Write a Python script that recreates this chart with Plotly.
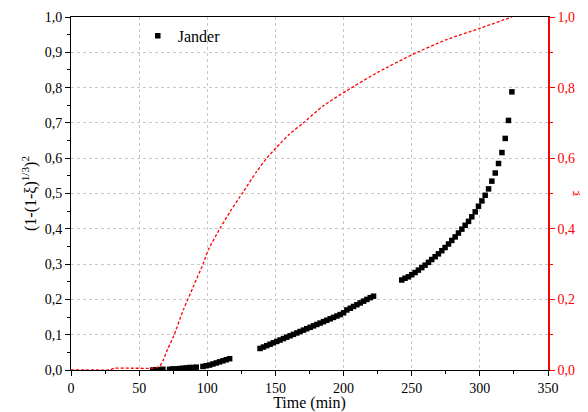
import plotly.graph_objects as go

# Jander points: time (min) and (1-(1-xi)^(1/3))^2
jander_t = [60.0, 62.5, 64.9, 67.4,
            72.3, 74.7, 77.2, 79.6, 82.1, 84.5, 87.0, 89.4, 91.9,
            96.8, 99.2, 101.7, 104.1, 106.6, 109.0, 111.5, 113.9, 116.4,
            138.7, 141.2, 143.6, 146.1, 148.5, 151.0, 153.4, 155.9, 158.3, 160.8,
            163.2, 165.7, 168.1, 170.6, 173.0, 175.5, 177.9, 180.4, 182.8, 185.3,
            187.7, 190.2, 192.6, 195.1, 197.5, 200.0,
            202.4, 204.9, 207.3, 209.8, 212.2, 214.7, 217.1, 219.6, 222.0,
            242.7, 245.1, 247.6, 250.0, 252.5, 254.9, 257.4, 259.8, 262.3, 264.7,
            267.2, 269.6, 272.1, 274.5, 277.0, 279.4, 281.9, 284.3, 286.8, 289.2,
            291.7, 294.1, 296.6, 299.0, 301.5, 303.9, 306.4, 308.8, 311.3, 313.7,
            316.2, 318.6, 321.0, 323.5]
jander_v = [0.000, 0.001, 0.001, 0.002,
            0.002, 0.003, 0.003, 0.004, 0.005, 0.006, 0.007, 0.007, 0.008,
            0.010, 0.012, 0.014, 0.017, 0.020, 0.023, 0.026, 0.029, 0.032,
            0.061, 0.065, 0.069, 0.073, 0.077, 0.081, 0.085, 0.089, 0.093, 0.097,
            0.101, 0.105, 0.109, 0.113, 0.117, 0.121, 0.125, 0.129, 0.133, 0.137,
            0.141, 0.145, 0.149, 0.153, 0.157, 0.162,
            0.170, 0.175, 0.180, 0.185, 0.190, 0.195, 0.200, 0.205, 0.209,
            0.255, 0.260, 0.264, 0.270, 0.276, 0.283, 0.290, 0.297, 0.305, 0.313,
            0.321, 0.329, 0.338, 0.347, 0.357, 0.367, 0.377, 0.388, 0.399, 0.410,
            0.421, 0.434, 0.448, 0.464, 0.479, 0.495, 0.513, 0.535, 0.558, 0.585,
            0.616, 0.656, 0.707, 0.788]

# Conversion degree xi vs time
xi_t = [0, 10, 20, 28, 32, 45, 60, 62.5, 65.3, 67.7, 71, 75.1, 82.4, 89.7, 97.1,
        100.7, 109.3, 116.7, 126.4, 136.2, 143.6, 150.9, 160, 170.4, 185, 202.2,
        225, 250.7, 275, 300, 323.5]
xi_v = [0.0, 0.0, 0.0, 0.0, 0.005, 0.005, 0.005, 0.006, 0.012, 0.028, 0.06, 0.094,
        0.17, 0.236, 0.302, 0.34, 0.401, 0.448, 0.505, 0.562, 0.60, 0.631, 0.667,
        0.70, 0.748, 0.791, 0.843, 0.894, 0.935, 0.968, 1.0]

FONT = "Liberation Serif, Times New Roman, serif"
GRID = "#c8c8c8"

fig = go.Figure()
fig.add_trace(go.Scatter(
    x=xi_t, y=xi_v, mode="lines", yaxis="y2", showlegend=False, name="ξ",
    line=dict(color="#ff0000", width=1.3, dash="3px,2px", shape="spline", smoothing=0.6)))
fig.add_trace(go.Scatter(
    x=jander_t, y=jander_v, mode="markers", name="Jander",
    marker=dict(symbol="square", size=5.5, color="black")))

fig.update_layout(
    width=580, height=404,
    margin=dict(l=63, r=40, t=9, b=42),
    paper_bgcolor="white", plot_bgcolor="white",
    separators=", ",
    font=dict(family=FONT, size=13, color="black"),
    showlegend=True,
    legend=dict(x=0.14, y=0.995, xanchor="left", yanchor="top",
                bgcolor="rgba(0,0,0,0)", font=dict(family=FONT, size=16)),
    xaxis=dict(range=[0, 350], tick0=0, dtick=50, ticks="outside", ticklen=5,
               tickcolor="black", linecolor="black", linewidth=1, mirror=True,
               showline=True, showgrid=True, gridcolor=GRID, griddash="dot",
               gridwidth=1, zeroline=False, automargin=False,
               minor=dict(dtick=25, ticks="outside", ticklen=3, tickcolor="black", showgrid=False),
               title=dict(text="Time (min)", font=dict(family=FONT, size=16), standoff=1),
               tickfont=dict(family=FONT, size=14)),
    yaxis=dict(range=[0, 1], tick0=0, dtick=0.1, tickformat=".1f", ticks="outside",
               ticklen=5, tickcolor="black", linecolor="black", linewidth=1,
               showline=True, showgrid=True, gridcolor=GRID, griddash="dot",
               gridwidth=1, zeroline=False, automargin=False,
               minor=dict(dtick=0.05, ticks="outside", ticklen=3, tickcolor="black", showgrid=False),
               title=dict(text="(1-(1-ξ)<sup>1/3</sup>)<sup>2</sup>",
                          font=dict(family=FONT, size=16), standoff=4),
               tickfont=dict(family=FONT, size=14)),
    yaxis2=dict(range=[0, 1], overlaying="y", side="right", tick0=0, dtick=0.2,
                tickformat=".1f", ticks="outside", ticklen=5, tickcolor="#ff0000",
                linecolor="#ff0000", linewidth=1.5, showline=True, showgrid=False,
                zeroline=False, automargin=False,
                minor=dict(dtick=0.1, ticks="outside", ticklen=3, tickcolor="#ff0000"),
                title=dict(text="ξ", font=dict(family=FONT, size=16, color="#ff0000"),
                           standoff=2),
                tickfont=dict(family=FONT, size=14, color="#ff0000")),
)

fig.write_html("out.html")
